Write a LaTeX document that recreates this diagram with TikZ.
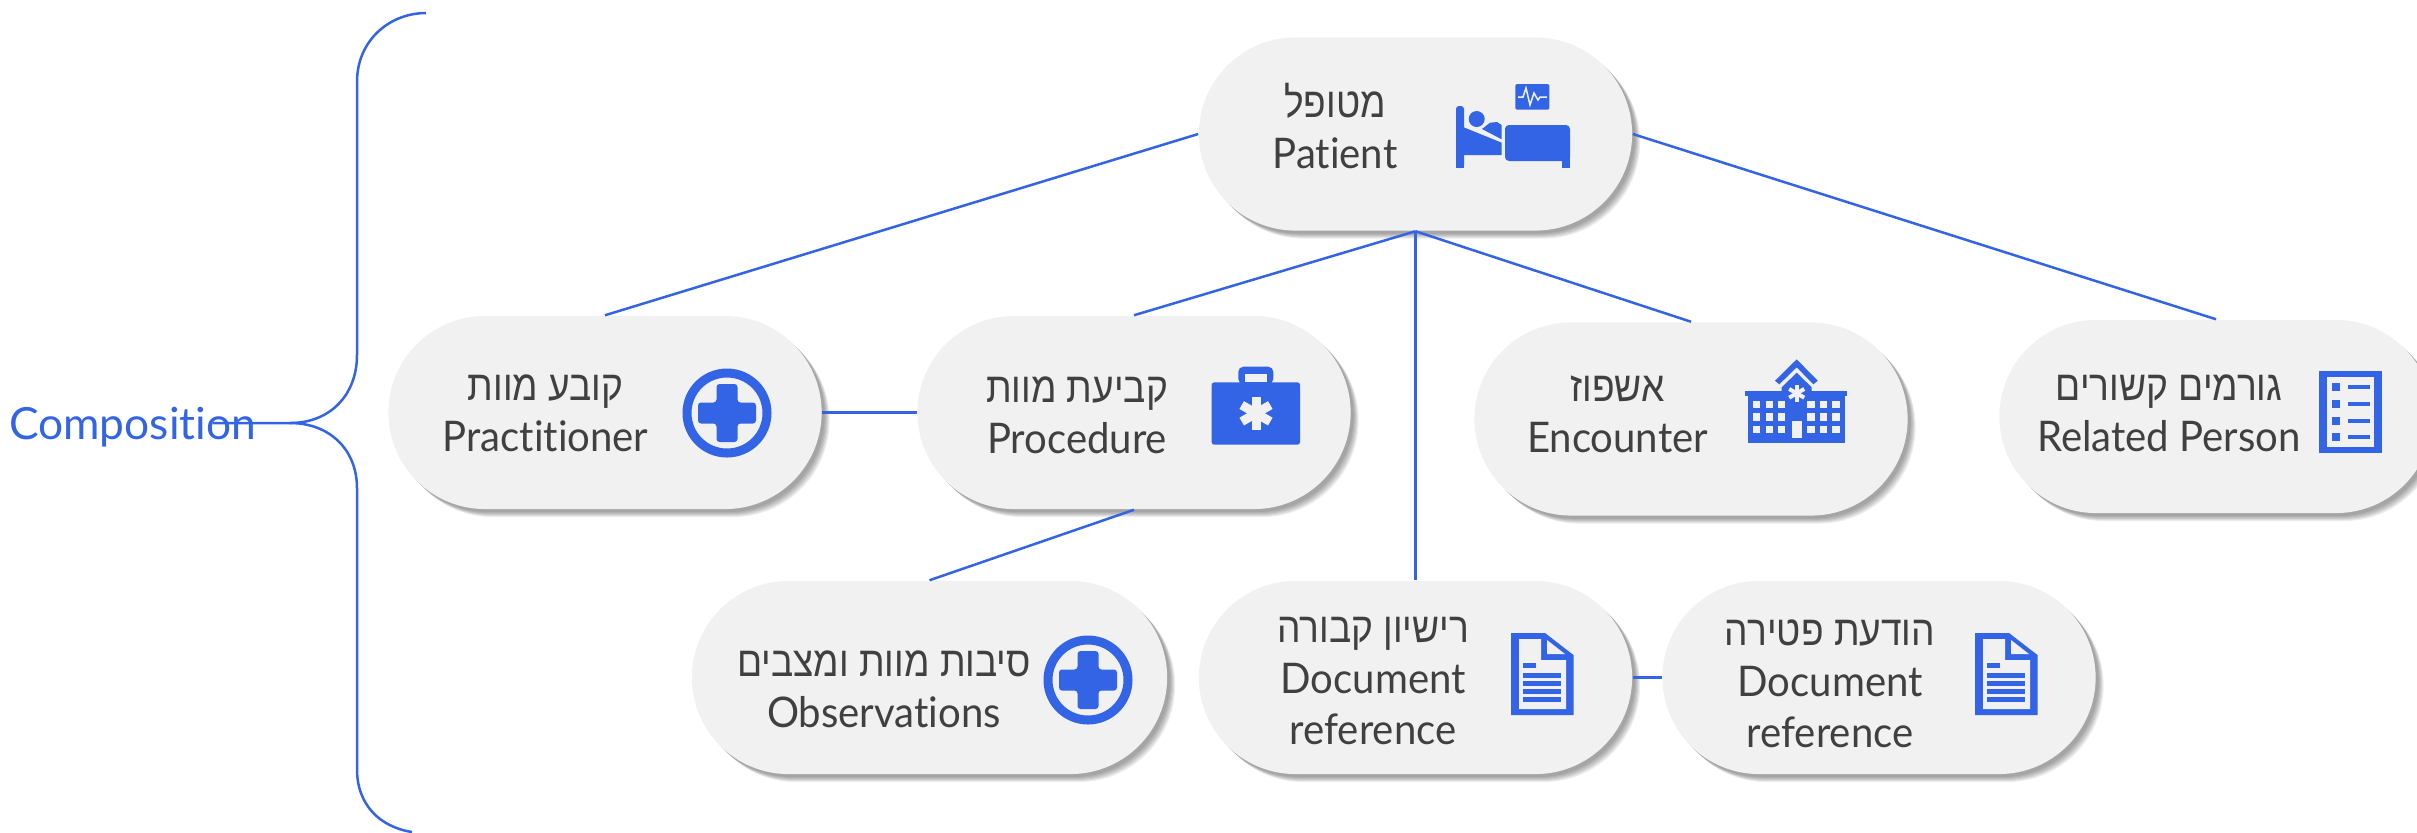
\documentclass[tikz,border=0pt]{standalone}
\usepackage{fontspec}
\setmainfont[Ligatures=NoCommon,FakeStretch=.95]{Lato}
\newfontfamily\wordfont[Ligatures=NoCommon]{Lato}
\newfontfamily\hebfont[Script=Hebrew,FakeStretch=.88]{Liberation Sans}
\TeXXeTstate=1
\usetikzlibrary{shapes.misc}
\usetikzlibrary{shadows}
\definecolor{fhirblue}{HTML}{3464E6}
\definecolor{pillgray}{HTML}{F1F1F1}
\definecolor{textgray}{HTML}{404040}
\newcommand{\heb}[1]{{\hebfont\beginR #1\endR}}
\tikzset{
	softshadow/.style={general shadow={fill=black,opacity=.07,shadow xshift=#1*.2845pt,shadow yshift=-#1*.2845pt}},
	pill/.style={rounded rectangle,fill=pillgray,inner sep=0pt,minimum width=4.33cm,minimum height=1.93cm,
		softshadow=8,softshadow=7,softshadow=6,softshadow=5,softshadow=4,softshadow=3},
	caption/.style={text=textgray,align=center,inner sep=0pt,font=\fontsize{12}{14.5}\selectfont},
	link/.style={fhirblue,line width=.025cm},
	pics/plusicon/.style={code={
		\draw[fhirblue,line width=.09cm] (0,0) circle (40);
		\fill[fhirblue,rounded corners=.03cm] (-10.5,-29) -- (10.5,-29) -- (10.5,-10.5) -- (29,-10.5) -- (29,10.5) -- (10.5,10.5) -- (10.5,29) -- (-10.5,29) -- (-10.5,10.5) -- (-29,10.5) -- (-29,-10.5) -- (-10.5,-10.5) -- cycle;
	}},
	pics/docicon/.style={code={
		\fill[fhirblue] (0,0) -- (34,0) -- (62.5,22) -- (62.5,82) -- (0,82) -- cycle;
		\fill[pillgray] (8,6) -- (30,6) -- (30,27) -- (55,27) -- (55,76) -- (8,76) -- cycle;
		\fill[pillgray] (36,7) -- (54,21) -- (36,21) -- cycle;
		\fill[fhirblue] (12,30) rectangle (25,35);
		\foreach \ly in {40,48,56,64}
			\fill[fhirblue] (12,\ly) rectangle (50,\ly+5);
	}},
	pics/starmark/.style n args={2}{code={
		\foreach \a in {90,30,-30}
			\draw[pillgray,line width=#2] (\a:#1) -- (\a+180:#1);
	}},
	pics/bedicon/.style={code={
		\fill[fhirblue,rounded corners=.03cm] (16,98) -- (16,36) -- (24,36) -- (24,98) -- cycle;
		\fill[fhirblue] (23,57) -- (61.7,72.7) -- (61.7,85) -- (23,85) -- cycle;
		\fill[fhirblue] (36.7,49) circle (8);
		\fill[fhirblue] (42,59) -- (50,52.7) -- (57,52) -- (61.7,55) -- (61.7,69.3) -- cycle;
		\fill[fhirblue,rounded corners=.04cm] (65,55) -- (130,55) -- (130,91) -- (65,91) -- cycle;
		\fill[fhirblue] (122,85) rectangle (130,98);
		\fill[fhirblue,rounded corners=.015cm] (75.3,14) -- (109.3,14) -- (109.3,39.7) -- (75.3,39.7) -- cycle;
		\draw[pillgray,line width=.015cm] (78,27) -- (83,27) -- (86,18) -- (90,35) -- (94,23) -- (98,30) -- (100,27) -- (107,27);
		\fill[fhirblue] (16,60) rectangle (24,98);
	}},
	pics/caseicon/.style={code={
		\fill[fhirblue,rounded corners=.025cm] (21.7,32.3) -- (110,32.3) -- (110,94.7) -- (21.7,94.7) -- cycle;
		\fill[fhirblue,rounded corners=.05cm] (48.3,34) -- (48.3,16.7) -- (83.3,16.7) -- (83.3,34) -- cycle;
		\fill[pillgray] (55,24) rectangle (76.7,32.3);
		\pic at (66,63.3) {starmark={16.5}{.09cm}};
	}},
	pics/hospitalicon/.style={code={
		\fill[fhirblue] (66.7,9.3) -- (87.7,30.7) -- (83.3,34.3) -- (66.7,17.3) -- (49.3,34.3) -- (45,30.7) -- cycle;
		\fill[fhirblue] (66.7,22.7) -- (81.7,37.3) -- (81.7,42) -- (51.7,42) -- (51.7,37.3) -- cycle;
		\fill[fhirblue] (15,41) rectangle (117.3,46);
		\fill[fhirblue] (18,46) rectangle (115,93.3);
		\foreach \wx in {26.7,39.3,51.7,81,93.7,106}
			\foreach \wy in {54.3,67,79.3}
				\fill[pillgray] (\wx-3.7,\wy-3.7) rectangle (\wx+3.7,\wy+3.7);
		\fill[pillgray] (61.7,70.7) rectangle (71.7,88.3);
		\pic at (66.7,43.3) {starmark={8.7}{.04cm}};
	}},
	pics/listicon/.style={code={
		\fill[fhirblue] (0,0) rectangle (63,82);
		\fill[pillgray] (8,6) rectangle (55,76);
		\foreach \ly in {16,33,50,66} {
			\fill[fhirblue] (13,\ly-3.7) rectangle (21,\ly+3.7);
			\fill[fhirblue] (29,\ly-2.2) rectangle (51,\ly+2.2);
		}
	}}
}
\begin{document}
\begin{tikzpicture}[x=.01cm,y=-.01cm]
	\useasboundingbox (0,0) rectangle (2417,832);
	\node[pill] (patient) at (1415.5,134) {};
	\node[pill] (practitioner) at (605,412.5) {};
	\node[pill] (procedure) at (1134,412.5) {};
	\node[pill] (encounter) at (1691,419) {};
	\node[pill] (related) at (2216,416.5) {};
	\node[pill,minimum width=4.75cm] (observations) at (929.5,677.5) {};
	\node[pill] (burial) at (1415.5,677.5) {};
	\node[pill] (notice) at (1879,677.5) {};

	\node[caption] (patientText) at (1335,126) {\heb{מטופל}\\Patient};
	\node[caption] (practitionerText) at (545.5,413) {\heb{קובע מוות}\\Practitioner};
	\node[caption] (procedureText) at (1077,415) {\heb{קביעת מוות}\\Procedure};
	\node[caption] (encounterText) at (1617.5,414) {\heb{אשפוז}\\Encounter};
	\node[caption] (relatedText) at (2169,413) {\heb{גורמים קשורים}\\Related Person};
	\node[caption] (observationsText) at (884,689) {\heb{סיבות מוות ומצבים}\\Observations};
	\node[caption] (burialText) at (1373,681) {\heb{רישיון קבורה}\\Document\\reference};
	\node[caption] (noticeText) at (1830,684) {\heb{הודעת פטירה}\\Document\\reference};

	\pic at (1440,70) {bedicon};
	\pic at (727,413) {plusicon};
	\pic at (1190,350) {caseicon};
	\pic at (1730,350) {hospitalicon};
	\pic at (2319,371) {listicon};
	\pic at (1088,680) {plusicon};
	\pic at (1511,633) {docicon};
	\pic at (1975,633) {docicon};

	\draw[link] (patient.west) -- (practitioner.north);
	\draw[link] (patient.east) -- (related.north);
	\draw[link] (patient.south) -- (procedure.north);
	\draw[link] (patient.south) -- (encounter.north);
	\draw[link] (patient.south) -- (burial.north);
	\draw[link] (practitioner.east) -- (procedure.west);
	\draw[link] (procedure.south) -- (observations.north);
	\draw[link] (burial.east) -- (notice.west);

	\node[text=fhirblue,inner sep=0pt,font=\wordfont\fontsize{12.6}{15}\selectfont] (composition) at (132.5,427) {Composition};
	\coordinate (braceTip) at (213,423);
	\coordinate (braceTop) at (426,13);
	\coordinate (braceBottom) at (412,832);
	\draw[link] (braceTip) -- (290,423) .. controls (330,423) and (357,395) .. (357,355) -- (357,82) .. controls (357,40) and (390,13) .. (braceTop);
	\draw[link] (290,423) .. controls (330,423) and (357,450) .. (357,488) -- (357,769) .. controls (357,805) and (380,827) .. (braceBottom);
\end{tikzpicture}
\end{document}
